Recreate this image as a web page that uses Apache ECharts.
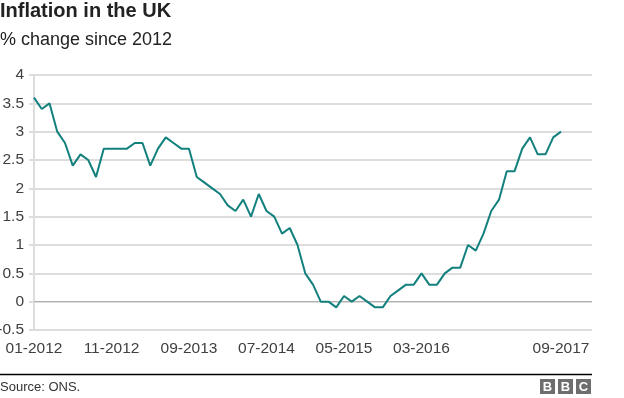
<!DOCTYPE html>
<html>
<head>
<meta charset="utf-8">
<script src="https://cdn.jsdelivr.net/npm/echarts@6/dist/echarts.min.js"></script>
<style>
html,body{margin:0;padding:0;background:#fff;}
#c{width:624px;height:398px;}
</style>
</head>
<body>
<div id="c"></div>
<script>
// Monthly UK CPI inflation, Jan 2012 - Sep 2017
var inflation2012 = [3.6, 3.4, 3.5, 3.0, 2.8, 2.4, 2.6, 2.5, 2.2, 2.7, 2.7, 2.7];
var inflation2013 = [2.7, 2.8, 2.8, 2.4, 2.7, 2.9, 2.8, 2.7, 2.7, 2.2, 2.1, 2.0];
var inflation2014 = [1.9, 1.7, 1.6, 1.8, 1.5, 1.9, 1.6, 1.5, 1.2, 1.3, 1.0, 0.5];
var inflation2015 = [0.3, 0.0, 0.0, -0.1, 0.1, 0.0, 0.1, 0.0, -0.1, -0.1, 0.1, 0.2];
var inflation2016 = [0.3, 0.3, 0.5, 0.3, 0.3, 0.5, 0.6, 0.6, 1.0, 0.9, 1.2, 1.6];
var inflation2017 = [1.8, 2.3, 2.3, 2.7, 2.9, 2.6, 2.6, 2.9, 3.0];

var startYear = 2012;
var endYear = 2018; // axis runs to 01-2018
var shownLabels = ['01-2012', '11-2012', '09-2013', '07-2014', '05-2015', '03-2016', '09-2017'];
var titleText = 'Inflation in the UK';
var subtitleText = '% change since 2012';
var sourceText = 'Source: ONS.';

var months = [];
for (var y = startYear; y <= endYear; y++) {
  for (var m = 1; m <= 12; m++) {
    if (y === endYear && m > 1) break;
    months.push((m < 10 ? '0' + m : '' + m) + '-' + y);
  }
}
var values = [].concat(inflation2012, inflation2013, inflation2014, inflation2015, inflation2016, inflation2017);

var font = '"Liberation Sans", Arial, Helvetica, sans-serif';
var chart = echarts.init(document.getElementById('c'), null, {renderer: 'canvas'});
chart.setOption({
  animation: false,
  backgroundColor: '#ffffff',
  title: [
    {text: titleText, left: 0, top: 1, padding: 0,
     textStyle: {fontFamily: font, fontSize: 20, fontWeight: 'bold', color: '#222222'}},
    {text: subtitleText, left: 0, top: 31, padding: 0,
     textStyle: {fontFamily: font, fontSize: 18, fontWeight: 'normal', color: '#222222'}}
  ],
  grid: {left: 34, right: 32, top: 75, bottom: 68, containLabel: false, outerBoundsMode: 'none'},
  xAxis: {
    type: 'category',
    data: months,
    boundaryGap: false,
    axisLine: {show: false},
    axisTick: {show: false},
    splitLine: {show: false},
    axisLabel: {
      interval: function (i, v) { return shownLabels.indexOf(v) >= 0; },
      margin: 11,
      color: '#404040',
      fontFamily: font,
      fontSize: 15.5,
      hideOverlap: false
    }
  },
  yAxis: {
    type: 'value',
    min: -0.5,
    max: 4,
    interval: 0.5,
    axisLine: {show: true, lineStyle: {color: '#dddddd', width: 2}},
    axisTick: {show: true, length: 5, lineStyle: {color: '#dddddd', width: 2}},
    splitLine: {show: true, lineStyle: {color: '#dddddd', width: 2}},
    axisLabel: {margin: 10, color: '#404040', fontFamily: font, fontSize: 15.5}
  },
  series: [{
    type: 'line',
    data: values,
    showSymbol: false,
    symbol: 'none',
    lineStyle: {color: '#12807d', width: 2},
    z: 5,
    markLine: {
      silent: true,
      symbol: 'none',
      label: {show: false},
      lineStyle: {color: '#b0b0b0', width: 1, type: 'solid'},
      data: [{yAxis: 0}],
      z: 3
    }
  }],
  graphic: [
    {type: 'line', shape: {x1: 0, y1: 374.5, x2: 592, y2: 374.5}, style: {stroke: '#000000', lineWidth: 1.5}},
    {type: 'text', left: 0, top: 381, style: {text: sourceText, font: '13px ' + font, fill: '#333333'}},
    {type: 'group', left: 540, top: 379, children: [
      {type: 'rect', shape: {x: 0, y: 0, width: 15, height: 15}, style: {fill: '#6e6e6e'}},
      {type: 'rect', shape: {x: 18, y: 0, width: 15, height: 15}, style: {fill: '#6e6e6e'}},
      {type: 'rect', shape: {x: 36, y: 0, width: 15, height: 15}, style: {fill: '#6e6e6e'}},
      {type: 'text', x: 7.5, y: 8, style: {text: 'B', font: 'bold 13px ' + font, fill: '#ffffff', align: 'center', verticalAlign: 'middle'}},
      {type: 'text', x: 25.5, y: 8, style: {text: 'B', font: 'bold 13px ' + font, fill: '#ffffff', align: 'center', verticalAlign: 'middle'}},
      {type: 'text', x: 43.5, y: 8, style: {text: 'C', font: 'bold 13px ' + font, fill: '#ffffff', align: 'center', verticalAlign: 'middle'}}
    ]}
  ]
});
</script>
</body>
</html>
